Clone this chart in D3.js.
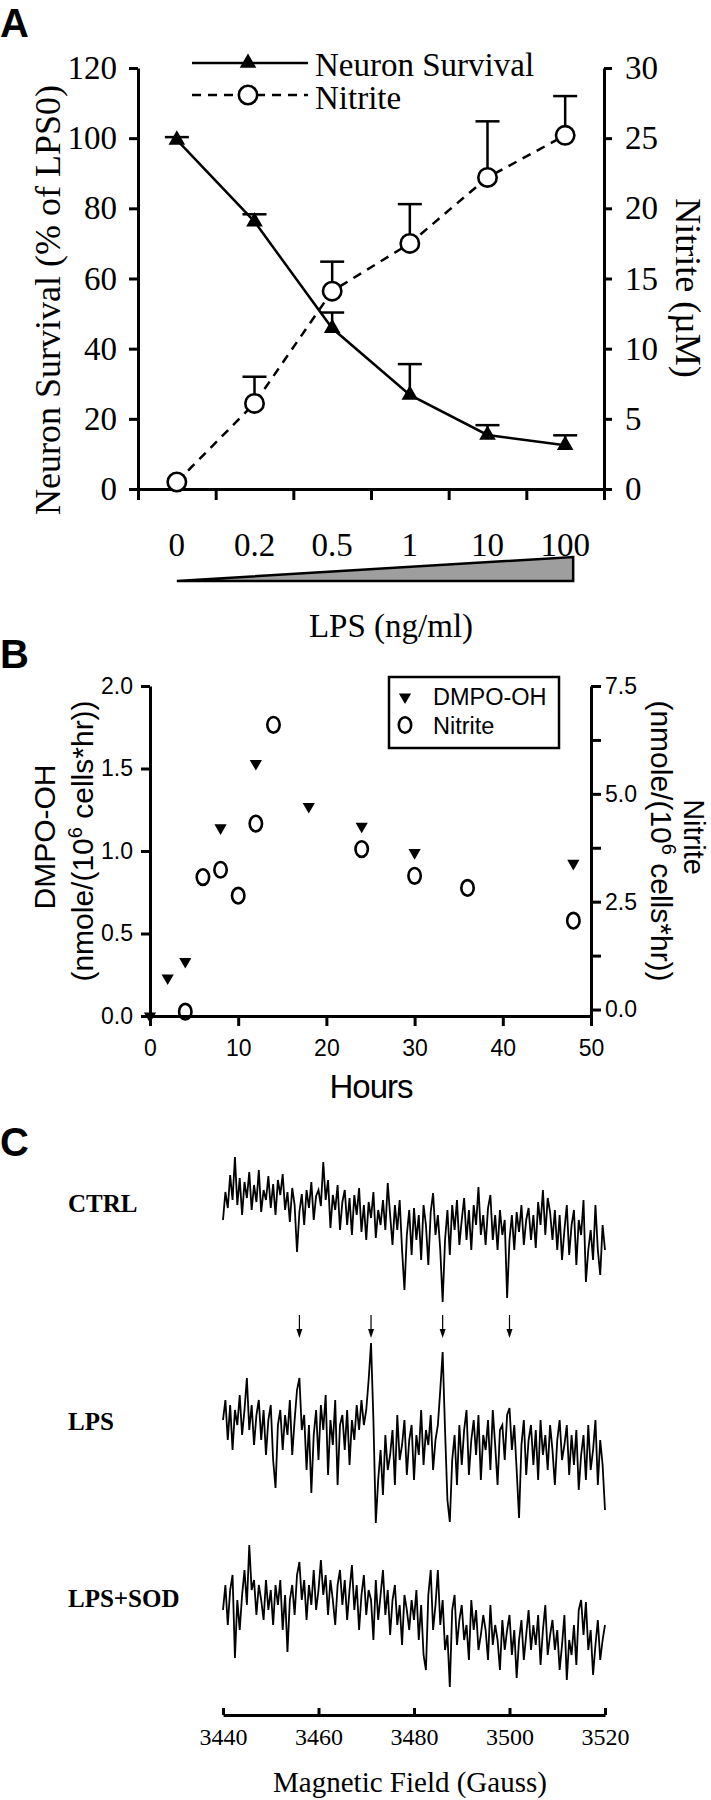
<!DOCTYPE html>
<meta charset="utf-8">
<script src="https://d3js.org/d3.v7.min.js"></script>
<style>
body { margin:0; background:#fff; }
svg { display:block; background:#fff; }
.axis path, .axis line { stroke:#000; stroke-width:3; }
</style>
<body></body>
<script>

// ---- panel A data ----
var doses = ["0", "0.2", "0.5", "1", "10", "100"];
var survival = [99.5, 76.2, 45.8, 26.8, 15.4, 12.5];
var survivalErr = [0.8, 2.1, 4.5, 8.8, 2.8, 2.8];
var nitriteA = [0.5, 6.1, 14.1, 17.5, 22.2, 25.2];
var nitriteAErr = [0, 1.9, 2.1, 2.8, 4.0, 2.8];
var leftTicksA = [0, 20, 40, 60, 80, 100, 120];
var rightTicksA = [0, 5, 10, 15, 20, 25, 30];

// ---- panel B data ----
var hoursDmpo = [0, 2, 4, 8, 12, 18, 24, 30, 48];
var dmpo = [0, 0.23, 0.33, 1.14, 1.53, 1.27, 1.15, 0.99, 0.925];
var hoursNitrite = [4, 6, 8, 10, 12, 14, 24, 30, 36, 48];
var nitriteB = [-0.05, 3.07, 3.24, 2.64, 4.31, 6.6, 3.72, 3.10, 2.82, 2.06];
var hourTicks = [0, 10, 20, 30, 40, 50];
var leftTicksB = [0, 0.5, 1.0, 1.5, 2.0];
var rightTicksB = [0, 1.25, 2.5, 3.75, 5.0, 6.25, 7.5];

// ---- panel C data (spectra read every 0.5 G from 3440 G, arbitrary units) ----
var fieldStart = 3440, fieldStep = 0.5;
var ctrl = [0, 28, 12, 45, 20, 63, 15, 42, 5, 38,
  22, 48, 10, 35, 18, 50, 8, 30, 20, 44,
  12, 36, 5, 40, 25, 46, 10, 28, -2, 32,
  15, -32, 8, 26, -5, 30, 12, 38, 0, 24,
  30, 14, 58, 20, 40, -8, 25, 10, 35, -10,
  18, 30, -5, 22, -15, 25, 5, 32, -12, 15,
  -20, 18, 2, 28, -18, 10, -5, 20, -10, 37,
  5, -25, 15, -10, 20, -30, -70, -15, 10, -35,
  12, -20, 5, -40, 15, -5, -45, 8, 27, -15,
  5, -30, -82, -20, 10, -35, 15, -10, 20, -25,
  0, 22, -20, 10, -30, 15, -5, 33, -15, 5,
  -25, 12, 25, -20, 5, -30, 10, -15, 0, -78,
  -20, 5, -30, 8, -12, 15, -25, 0, 12, -20,
  5, -28, 18, -5, 30, -15, 22, 8, -20, 10,
  -30, 5, -40, -10, 15, -35, -5, 10, -45, 0,
  -15, 20, -62, -30, -10, -40, 15, -30, -55, -5,
  -30];
var lps = [20, 40, 0, 35, -10, 30, 15, 45, 5, 30,
  62, 10, 35, -5, 25, 40, 0, 30, -15, 20,
  35, -20, -48, 15, 30, -10, 25, 5, 40, -15,
  20, 50, 62, 10, 25, -30, 15, -53, 5, 30,
  -20, 35, 10, 45, -35, 20, -5, 40, -45, 15,
  25, -10, 30, -25, 20, 0, 35, 10, 40, 15,
  30, 60, 97, 20, -83, -40, -10, -55, 5, -30,
  -15, 10, -45, 25, -20, -5, 20, -35, 0, 15,
  -40, 5, -15, 30, -25, 10, -5, 25, -30, 0,
  15, 50, 88, 10, -60, -82, -20, 5, -45, 15,
  -25, 10, 30, -35, 0, 20, -15, 25, -40, 5,
  -10, 20, -30, 30, -5, -45, 10, 15, -20, 25,
  32, -10, 15, -30, -78, -5, 20, -35, 0, 15,
  -25, 10, -40, 20, -15, 5, -30, 15, -10, -45,
  0, 20, -20, -5, 15, -35, 5, -25, 10, -50,
  -15, 5, -40, 15, -30, -10, 20, -45, 0, -25,
  -70];
var lpsSod = [0, 25, -15, 20, 35, -48, 10, -20, 15, 40,
  5, 65, 20, 30, -5, 25, 10, -10, 30, 0,
  20, -15, 25, 5, 30, -20, 15, -42, 10, 25,
  -5, 35, 48, 10, 30, -10, 25, 5, 40, 0,
  20, 50, 15, 35, -5, 30, 10, -15, 25, 40,
  5, 30, -10, 20, 45, 0, 25, -20, 15, 35,
  -5, 20, 10, -30, 30, -10, 15, 40, -5, 20,
  -25, 10, 25, -15, 5, -35, 15, 0, -20, 10,
  -10, 20, -30, 5, -45, -60, 15, 40, -20, 5,
  40, -15, 10, -40, -25, -77, 0, 15, -35, -10,
  5, -30, -15, -50, 10, -20, 0, -40, -25, -5,
  -20, -50, 5, -35, -15, -30, -60, -10, -40, -20,
  -5, -45, -20, -68, -30, -10, -50, -25, 0, -40,
  -15, -35, -5, -55, -20, 5, -45, -25, -10, -40,
  -20, -60, -35, -5, -70, -30, -45, -15, -55, 0,
  10, -25, 8, -40, -20, -65, -35, -10, -50, -30,
  -15];
var arrowFields = [3456, 3471, 3486, 3500];
var fieldTicks = [3440, 3460, 3480, 3500, 3520];

var serif = "'Liberation Serif', 'Times New Roman', serif";
var sans = "'Liberation Sans', Arial, sans-serif";

var svg = d3.select("body").append("svg")
  .attr("width", 711)
  .attr("height", 1800);

function styleAxis(g, font, size) {
  g.attr("class", "axis")
    .attr("font-family", font)
    .attr("font-size", size);
  g.selectAll("text").attr("fill", "#000");
}

// panel letters
svg.selectAll(".letter")
  .data([["A", 37], ["B", 668], ["C", 1156]])
  .enter().append("text")
  .attr("class", "letter")
  .attr("x", 0)
  .attr("y", function(d) { return d[1]; })
  .attr("font-family", sans)
  .attr("font-weight", "bold")
  .attr("font-size", 40)
  .text(function(d) { return d[0]; });

// ================= Panel A =================
var xA = d3.scaleBand().domain(doses).range([138, 604]);
var bw = xA.bandwidth();
var cx = function(d) { return xA(d) + bw / 2; };
var xEdges = d3.scaleLinear().domain([0, doses.length]).range([138, 604]);
var yL = d3.scaleLinear().domain([0, 120]).range([489, 68]);
var yR = d3.scaleLinear().domain([0, 30]).range([489, 68]);

var gA = svg.append("g");

gA.append("g")
  .attr("transform", "translate(0,489)")
  .call(d3.axisBottom(xEdges).tickValues(d3.range(0, doses.length + 1)).tickFormat("").tickSize(11).tickSizeOuter(0))
  .call(styleAxis, serif, 33);

gA.append("g")
  .attr("transform", "translate(138,0)")
  .call(d3.axisLeft(yL).tickValues(leftTicksA).tickSize(9).tickPadding(12).tickSizeOuter(0))
  .call(styleAxis, serif, 33);

gA.append("g")
  .attr("transform", "translate(604,0)")
  .call(d3.axisRight(yR).tickValues(rightTicksA).tickSize(8).tickPadding(13).tickSizeOuter(0))
  .call(styleAxis, serif, 33);

// dose labels
gA.selectAll(".dose")
  .data(doses).enter().append("text")
  .attr("x", cx)
  .attr("y", 556)
  .attr("text-anchor", "middle")
  .attr("font-family", serif)
  .attr("font-size", 33)
  .text(function(d) { return d; });

// concentration wedge
gA.append("path")
  .attr("d", "M" + cx(doses[0]) + ",581L" + (cx(doses[5]) + 8) + ",581L" + (cx(doses[5]) + 8) + ",557Z")
  .attr("fill", "#9e9e9e")
  .attr("stroke", "#000")
  .attr("stroke-width", 2.5)
  .attr("stroke-linejoin", "miter");

gA.append("text")
  .attr("x", 391).attr("y", 637)
  .attr("text-anchor", "middle")
  .attr("font-family", serif).attr("font-size", 33)
  .text("LPS (ng/ml)");

// axis titles
gA.append("text")
  .attr("transform", "translate(60,300) rotate(-90)")
  .attr("text-anchor", "middle")
  .attr("font-family", serif).attr("font-size", 36)
  .text("Neuron Survival (% of LPS0)");
gA.append("text")
  .attr("transform", "translate(676,288) rotate(90)")
  .attr("text-anchor", "middle")
  .attr("font-family", serif).attr("font-size", 36)
  .text("Nitrite (\u00b5M)");

var survData = doses.map(function(d, i) { return {dose: d, v: survival[i], e: survivalErr[i]}; });
var nitData = doses.map(function(d, i) { return {dose: d, v: nitriteA[i], e: nitriteAErr[i]}; });

// lines
gA.append("path")
  .datum(nitData)
  .attr("fill", "none").attr("stroke", "#000").attr("stroke-width", 2.5)
  .attr("stroke-dasharray", "9,7")
  .attr("d", d3.line().x(function(d) { return cx(d.dose); }).y(function(d) { return yR(d.v); }));
gA.append("path")
  .datum(survData)
  .attr("fill", "none").attr("stroke", "#000").attr("stroke-width", 2.5)
  .attr("d", d3.line().x(function(d) { return cx(d.dose); }).y(function(d) { return yL(d.v); }));

// error bars (upper only)
function errBars(data, y, offset) {
  var g = gA.append("g").attr("stroke", "#000").attr("stroke-width", 2.5);
  data.filter(function(d) { return d.e > 0; }).forEach(function(d) {
    var x = cx(d.dose);
    g.append("line").attr("x1", x).attr("x2", x)
      .attr("y1", y(d.v) - offset).attr("y2", y(d.v + d.e));
    g.append("line").attr("x1", x - 12).attr("x2", x + 12)
      .attr("y1", y(d.v + d.e)).attr("y2", y(d.v + d.e));
  });
}
errBars(survData, yL, 0);
errBars(nitData, yR, 9);

var tri = d3.symbol().type(d3.symbolTriangle).size(120);
gA.selectAll(".surv")
  .data(survData).enter().append("path")
  .attr("d", tri)
  .attr("transform", function(d) { return "translate(" + cx(d.dose) + "," + yL(d.v) + ")"; })
  .attr("fill", "#000");

gA.selectAll(".nit")
  .data(nitData).enter().append("circle")
  .attr("cx", function(d) { return cx(d.dose); })
  .attr("cy", function(d) { return yR(d.v); })
  .attr("r", 9.2)
  .attr("fill", "#fff").attr("stroke", "#000").attr("stroke-width", 2.6);

// legend A
var legA = gA.append("g");
legA.append("line").attr("x1", 192).attr("x2", 308).attr("y1", 63).attr("y2", 63)
  .attr("stroke", "#000").attr("stroke-width", 2.5);
legA.append("path").attr("d", tri).attr("transform", "translate(248,63)").attr("fill", "#000");
legA.append("line").attr("x1", 192).attr("x2", 308).attr("y1", 95).attr("y2", 95)
  .attr("stroke", "#000").attr("stroke-width", 2.5).attr("stroke-dasharray", "9,7");
legA.append("circle").attr("cx", 248).attr("cy", 95).attr("r", 9.2)
  .attr("fill", "#fff").attr("stroke", "#000").attr("stroke-width", 2.6);
legA.selectAll("text")
  .data([["Neuron Survival", 76], ["Nitrite", 109]])
  .enter().append("text")
  .attr("x", 315).attr("y", function(d) { return d[1]; })
  .attr("font-family", serif).attr("font-size", 33)
  .text(function(d) { return d[0]; });

// ================= Panel B =================
var xB = d3.scaleLinear().domain([0, 50]).range([150, 591]);
var yB = d3.scaleLinear().domain([0, 2]).range([1016, 686]);
var yB2 = d3.scaleLinear().domain([-0.15, 7.5]).range([1016, 686]);
var f1 = d3.format(".1f");

var gB = svg.append("g");

gB.append("g")
  .attr("transform", "translate(0,1016)")
  .call(d3.axisBottom(xB).tickValues(hourTicks).tickSize(10).tickPadding(14).tickSizeOuter(0))
  .call(styleAxis, sans, 23);

gB.append("g")
  .attr("transform", "translate(150,0)")
  .call(d3.axisLeft(yB).tickValues(leftTicksB).tickFormat(f1).tickSize(9).tickPadding(8).tickSizeOuter(0))
  .call(styleAxis, sans, 23);

gB.append("g")
  .attr("transform", "translate(591,0)")
  .call(d3.axisRight(yB2).tickValues(rightTicksB)
    .tickFormat(function(d) { return (d * 2) % 5 === 0 ? f1(d) : ""; })
    .tickSize(10).tickPadding(4).tickSizeOuter(0))
  .call(styleAxis, sans, 23);

gB.append("text")
  .attr("x", 371).attr("y", 1098)
  .attr("text-anchor", "middle")
  .attr("font-family", sans).attr("font-size", 33)
  .attr("letter-spacing", -1)
  .text("Hours");

function unitTitle(sel, tx, ty, rot) {
  var t = sel.append("text")
    .attr("transform", "translate(" + tx + "," + ty + ") rotate(" + rot + ")")
    .attr("text-anchor", "middle")
    .attr("font-family", sans).attr("font-size", 30);
  t.append("tspan").text("(nmole/(10");
  t.append("tspan").attr("dy", -11).attr("font-size", 20).text("6");
  t.append("tspan").attr("dy", 11).text(" cells*hr))");
}
gB.append("text")
  .attr("transform", "translate(55,837) rotate(-90)")
  .attr("text-anchor", "middle")
  .attr("font-family", sans).attr("font-size", 30)
  .text("DMPO-OH");
unitTitle(gB, 93, 841, -90);
gB.append("text")
  .attr("transform", "translate(684,837) rotate(90)")
  .attr("text-anchor", "middle")
  .attr("font-family", sans).attr("font-size", 29)
  .text("Nitrite");
unitTitle(gB, 651, 841, 90);

var triB = d3.symbol().type(d3.symbolTriangle).size(65);
gB.selectAll(".dmpo")
  .data(hoursDmpo).enter().append("path")
  .attr("d", triB)
  .attr("transform", function(d, i) { return "translate(" + xB(d) + "," + yB(dmpo[i]) + ") rotate(180)"; })
  .attr("fill", "#000");

gB.selectAll(".nitB")
  .data(hoursNitrite).enter().append("ellipse")
  .attr("cx", function(d) { return xB(d); })
  .attr("cy", function(d, i) { return yB2(nitriteB[i]); })
  .attr("rx", 6.2).attr("ry", 7.8)
  .attr("fill", "none").attr("stroke", "#000").attr("stroke-width", 2.6);

// legend B
var legB = gB.append("g");
legB.append("rect")
  .attr("x", 389).attr("y", 677).attr("width", 170).attr("height", 71)
  .attr("fill", "#fff").attr("stroke", "#000").attr("stroke-width", 2.5);
legB.append("path").attr("d", triB).attr("transform", "translate(405,697) rotate(180)").attr("fill", "#000");
legB.append("ellipse").attr("cx", 405).attr("cy", 725).attr("rx", 6.2).attr("ry", 7.8)
  .attr("fill", "none").attr("stroke", "#000").attr("stroke-width", 2.6);
legB.selectAll("text")
  .data([["DMPO-OH", 705], ["Nitrite", 734]])
  .enter().append("text")
  .attr("x", 433).attr("y", function(d) { return d[1]; })
  .attr("font-family", sans).attr("font-size", 23.5)
  .text(function(d) { return d[0]; });

// ================= Panel C =================
var xC = d3.scaleLinear().domain([3440, 3520]).range([223, 605]);
var gC = svg.append("g");

var traces = [
  {name: "CTRL", values: ctrl, base: 1220, labelY: 1212},
  {name: "LPS", values: lps, base: 1440, labelY: 1430},
  {name: "LPS+SOD", values: lpsSod, base: 1610, labelY: 1607}
];

traces.forEach(function(t) {
  var y = d3.scaleLinear().domain([-100, 100]).range([t.base + 100, t.base - 100]);
  gC.append("path")
    .datum(t.values)
    .attr("fill", "none").attr("stroke", "#000").attr("stroke-width", 1.8)
    .attr("stroke-linejoin", "miter")
    .attr("d", d3.line()
      .x(function(d, i) { return xC(fieldStart + i * fieldStep); })
      .y(function(d) { return y(d); }));
  gC.append("text")
    .attr("x", 68).attr("y", t.labelY)
    .attr("font-family", serif).attr("font-weight", "bold").attr("font-size", 25)
    .text(t.name);
});

// arrows marking the DMPO-OH quartet
arrowFields.forEach(function(f) {
  var x = xC(f);
  gC.append("line").attr("x1", x).attr("x2", x).attr("y1", 1315).attr("y2", 1331)
    .attr("stroke", "#000").attr("stroke-width", 1.2);
  gC.append("path").attr("d", "M" + (x - 3) + ",1329L" + (x + 3) + ",1329L" + x + ",1338Z").attr("fill", "#000");
});

gC.append("g")
  .attr("transform", "translate(0,1715)")
  .call(d3.axisBottom(xC).tickValues(fieldTicks).tickFormat(d3.format("d")).tickSize(-7).tickPadding(13).tickSizeOuter(0))
  .call(styleAxis, serif, 24);

gC.append("text")
  .attr("x", 410).attr("y", 1792)
  .attr("text-anchor", "middle")
  .attr("font-family", serif).attr("font-size", 29)
  .text("Magnetic Field (Gauss)");

</script>
